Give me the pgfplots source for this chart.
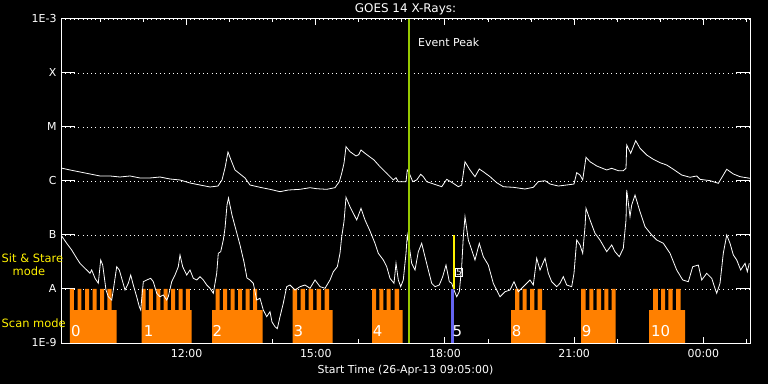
\documentclass[border=0pt]{standalone}
\usepackage{fontspec}
\setmainfont{DejaVu Sans}
\usepackage{pgfplots}
\pgfplotsset{compat=1.18}
\definecolor{iorange}{RGB}{255,128,0}
\definecolor{peakgreen}{RGB}{150,200,0}
\definecolor{sitblue}{RGB}{100,100,240}
\begin{document}
\begin{tikzpicture}
\fill[black] (0,0) rectangle (768bp,384bp);
\begin{axis}[
  at={(61bp,41bp)}, anchor=south west,
  scale only axis, width=689bp, height=324bp,
  xmin=9.0833, xmax=25.0833, ymin=-9, ymax=-3,
  axis line style={white, line width=1bp},
  tick style={white, line width=1bp},
  xtick={12,15,18,21,24},
  xticklabels={12:00,15:00,18:00,21:00,00:00},
  minor xtick={10,11,13,14,16,17,19,20,22,23,25},
  xtick style={/pgfplots/major tick length=6bp,/pgfplots/minor tick length=3.5bp},
  ytick={-9,-8,-7,-6,-5,-4,-3},
  yticklabels={1E-9,A,B,C,M,X,1E-3},
  ytick style={/pgfplots/major tick length=14bp},
  ymajorgrids,
  grid style={white, line width=0.9bp, dash pattern=on 0.9bp off 3.4bp},
  /pgf/number format/assume math mode=true,
  tick label style={text=white, font=\fontsize{11}{13}\selectfont},
  xticklabel style={yshift=-3bp},
  yticklabel style={xshift=-1bp},
  title={GOES 14 X-Rays:},
  title style={text=white, font=\fontsize{12}{14}\selectfont, at={(axis description cs:0.5,1)}, anchor=center, yshift=3.5bp},
  xlabel={Start Time (26-Apr-13 09:05:00)},
  xlabel style={text=white, font=\fontsize{11}{13}\selectfont, at={(axis description cs:0.5,0)}, anchor=center, yshift=-27bp},
  clip=true,
]
% scan-mode blocks
\addplot[fill=iorange, draw=none] coordinates {(9.292,-9)(9.292,-8)(9.385,-8)(9.385,-8.389)(9.467,-8.389)(9.467,-8)(9.559,-8)(9.559,-8.389)(9.641,-8.389)(9.641,-8)(9.734,-8)(9.734,-8.389)(9.815,-8.389)(9.815,-8)(9.908,-8)(9.908,-8.389)(9.989,-8.389)(9.989,-8)(10.082,-8)(10.082,-8.389)(10.163,-8.389)(10.163,-8)(10.256,-8)(10.256,-8.389)(10.377,-8.389)(10.377,-9)} -- cycle;
\addplot[fill=iorange, draw=none] coordinates {(10.953,-9)(10.953,-8)(11.046,-8)(11.046,-8.389)(11.125,-8.389)(11.125,-8)(11.218,-8)(11.218,-8.389)(11.297,-8.389)(11.297,-8)(11.389,-8)(11.389,-8.389)(11.468,-8.389)(11.468,-8)(11.561,-8)(11.561,-8.389)(11.640,-8.389)(11.640,-8)(11.733,-8)(11.733,-8.389)(11.812,-8.389)(11.812,-8)(11.905,-8)(11.905,-8.389)(11.984,-8.389)(11.984,-8)(12.077,-8)(12.077,-8.389)(12.114,-8.389)(12.114,-9)} -- cycle;
\addplot[fill=iorange, draw=none] coordinates {(12.590,-9)(12.590,-8.389)(12.676,-8.389)(12.676,-8)(12.769,-8)(12.769,-8.389)(12.850,-8.389)(12.850,-8)(12.943,-8)(12.943,-8.389)(13.024,-8.389)(13.024,-8)(13.117,-8)(13.117,-8.389)(13.198,-8.389)(13.198,-8)(13.291,-8)(13.291,-8.389)(13.373,-8.389)(13.373,-8)(13.466,-8)(13.466,-8.389)(13.547,-8.389)(13.547,-8)(13.640,-8)(13.640,-8.389)(13.767,-8.389)(13.767,-9)} -- cycle;
\addplot[fill=iorange, draw=none] coordinates {(14.464,-9)(14.464,-8)(14.569,-8)(14.569,-8.389)(14.650,-8.389)(14.650,-8)(14.754,-8)(14.754,-8.389)(14.836,-8.389)(14.836,-8)(14.940,-8)(14.940,-8.389)(15.021,-8.389)(15.021,-8)(15.126,-8)(15.126,-8.389)(15.207,-8.389)(15.207,-8)(15.312,-8)(15.312,-8.389)(15.393,-8.389)(15.393,-9)} -- cycle;
\addplot[fill=iorange, draw=none] coordinates {(16.306,-9)(16.306,-8)(16.399,-8)(16.399,-8.389)(16.475,-8.389)(16.475,-8)(16.568,-8)(16.568,-8.389)(16.647,-8.389)(16.647,-8)(16.740,-8)(16.740,-8.389)(16.828,-8.389)(16.828,-8)(16.933,-8)(16.933,-8.389)(17.019,-8.389)(17.019,-9)} -- cycle;
\addplot[fill=iorange, draw=none] coordinates {(19.534,-9)(19.534,-8.389)(19.627,-8.389)(19.627,-8)(19.726,-8)(19.726,-8.389)(19.801,-8.389)(19.801,-8)(19.898,-8)(19.898,-8.389)(19.975,-8.389)(19.975,-8)(20.075,-8)(20.075,-8.389)(20.154,-8.389)(20.154,-8)(20.258,-8)(20.258,-8.389)(20.340,-8.389)(20.340,-9)} -- cycle;
\addplot[fill=iorange, draw=none] coordinates {(21.159,-9)(21.159,-8)(21.264,-8)(21.264,-8.389)(21.352,-8.389)(21.352,-8)(21.445,-8)(21.445,-8.389)(21.524,-8.389)(21.524,-8)(21.624,-8)(21.624,-8.389)(21.700,-8.389)(21.700,-8)(21.793,-8)(21.793,-8.389)(21.872,-8.389)(21.872,-8)(21.965,-8)(21.965,-9)} -- cycle;
\addplot[fill=iorange, draw=none] coordinates {(22.738,-9)(22.738,-8.389)(22.831,-8.389)(22.831,-8)(22.941,-8)(22.941,-8.389)(23.017,-8.389)(23.017,-8)(23.110,-8)(23.110,-8.389)(23.187,-8.389)(23.187,-8)(23.289,-8)(23.289,-8.389)(23.365,-8.389)(23.365,-8)(23.475,-8)(23.475,-8.389)(23.575,-8.389)(23.575,-9)} -- cycle;
% long channel (1-8 A)
\addplot[white, line width=0.8bp, mark=none] coordinates {(9.083,-5.759)(9.292,-5.796)(9.524,-5.833)(9.757,-5.870)(9.989,-5.907)(10.221,-5.907)(10.453,-5.926)(10.686,-5.907)(10.918,-5.944)(11.150,-5.944)(11.382,-5.926)(11.615,-5.963)(11.847,-5.981)(12.079,-6.037)(12.311,-6.074)(12.544,-6.111)(12.729,-6.093)(12.822,-5.981)(12.892,-5.759)(12.961,-5.463)(13.031,-5.611)(13.124,-5.796)(13.240,-5.870)(13.356,-5.944)(13.472,-6.074)(13.705,-6.117)(13.937,-6.154)(14.169,-6.198)(14.362,-6.167)(14.634,-6.154)(14.866,-6.124)(15.021,-6.143)(15.254,-6.154)(15.446,-6.124)(15.546,-6.013)(15.602,-5.857)(15.655,-5.672)(15.702,-5.365)(15.795,-5.457)(15.934,-5.537)(15.997,-5.513)(16.050,-5.426)(16.143,-5.487)(16.352,-5.611)(16.491,-5.735)(16.647,-5.857)(16.800,-5.981)(16.863,-5.939)(16.916,-6.013)(17.095,-6.013)(17.125,-5.796)(17.158,-5.828)(17.188,-5.889)(17.251,-6.013)(17.343,-5.981)(17.436,-5.876)(17.497,-5.920)(17.576,-6.013)(17.808,-6.074)(17.924,-6.106)(18.040,-5.969)(18.194,-6.043)(18.309,-6.106)(18.388,-6.074)(18.465,-5.643)(18.581,-5.796)(18.697,-5.920)(18.797,-5.778)(18.890,-5.828)(19.046,-5.920)(19.201,-6.031)(19.355,-6.106)(19.587,-6.117)(19.858,-6.148)(20.051,-6.117)(20.167,-6.013)(20.323,-5.994)(20.439,-6.056)(20.632,-6.093)(20.827,-6.074)(20.996,-6.056)(21.059,-5.846)(21.136,-5.889)(21.198,-5.981)(21.275,-5.561)(21.368,-5.643)(21.524,-5.722)(21.756,-5.796)(21.872,-5.765)(22.025,-5.809)(22.141,-5.809)(22.204,-5.765)(22.220,-5.333)(22.313,-5.487)(22.429,-5.254)(22.529,-5.394)(22.685,-5.519)(22.838,-5.598)(22.994,-5.661)(23.149,-5.704)(23.303,-5.783)(23.497,-5.889)(23.690,-5.931)(23.846,-5.907)(23.922,-5.969)(24.155,-5.994)(24.348,-6.043)(24.543,-5.783)(24.696,-5.870)(24.851,-5.920)(25.083,-5.950)};
% short channel (0.5-4 A)
\addplot[white, line width=0.8bp, mark=none] coordinates {(9.083,-7.000)(9.216,-7.154)(9.332,-7.278)(9.448,-7.431)(9.524,-7.524)(9.601,-7.587)(9.680,-7.648)(9.757,-7.709)(9.796,-7.648)(9.873,-7.802)(9.949,-7.894)(10.005,-7.463)(10.052,-7.556)(10.128,-8.019)(10.182,-8.143)(10.261,-8.204)(10.298,-8.019)(10.377,-7.587)(10.437,-7.648)(10.493,-7.802)(10.570,-8.019)(10.646,-7.894)(10.702,-7.741)(10.762,-7.926)(10.841,-8.143)(10.902,-8.328)(10.934,-8.389)(10.995,-7.865)(11.073,-7.833)(11.166,-7.802)(11.227,-7.865)(11.306,-8.080)(11.382,-8.143)(11.459,-8.111)(11.538,-8.204)(11.575,-8.143)(11.654,-7.865)(11.731,-7.741)(11.807,-7.587)(11.847,-7.370)(11.909,-7.587)(12.002,-7.741)(12.079,-7.648)(12.156,-7.802)(12.235,-7.833)(12.311,-7.772)(12.388,-7.833)(12.467,-7.926)(12.544,-7.987)(12.620,-8.080)(12.699,-7.709)(12.736,-7.339)(12.792,-7.309)(12.852,-7.093)(12.892,-6.876)(12.938,-6.444)(12.973,-6.315)(13.054,-6.630)(13.147,-6.907)(13.240,-7.185)(13.333,-7.500)(13.402,-7.796)(13.472,-7.833)(13.549,-7.894)(13.628,-8.204)(13.704,-8.172)(13.781,-8.389)(13.860,-8.513)(13.937,-8.420)(13.983,-8.611)(14.053,-8.698)(14.106,-8.735)(14.169,-8.513)(14.245,-8.265)(14.324,-7.957)(14.401,-7.926)(14.517,-8.019)(14.633,-7.957)(14.749,-7.926)(14.866,-7.987)(14.982,-7.833)(15.098,-7.957)(15.214,-7.987)(15.330,-7.833)(15.407,-7.680)(15.500,-7.587)(15.562,-7.339)(15.602,-7.031)(15.655,-6.754)(15.702,-6.302)(15.794,-6.476)(15.950,-6.722)(16.050,-6.506)(16.143,-6.722)(16.259,-6.926)(16.375,-7.154)(16.452,-7.339)(16.568,-7.463)(16.647,-7.587)(16.723,-7.802)(16.816,-7.894)(16.863,-7.524)(16.916,-7.833)(16.972,-7.957)(17.032,-7.833)(17.095,-7.339)(17.125,-7.000)(17.172,-7.217)(17.227,-7.524)(17.304,-7.648)(17.381,-7.309)(17.459,-7.154)(17.536,-7.402)(17.613,-7.648)(17.692,-7.894)(17.768,-7.957)(17.868,-7.926)(17.947,-7.772)(18.024,-7.556)(18.101,-7.865)(18.156,-7.894)(18.210,-8.019)(18.272,-8.143)(18.333,-8.050)(18.388,-7.587)(18.426,-7.031)(18.465,-6.661)(18.542,-7.093)(18.621,-7.278)(18.697,-7.463)(18.797,-7.154)(18.890,-7.402)(19.006,-7.556)(19.122,-7.894)(19.201,-8.019)(19.278,-8.143)(19.394,-8.050)(19.510,-8.019)(19.603,-7.865)(19.703,-8.050)(19.819,-7.957)(19.974,-7.833)(20.051,-7.926)(20.130,-7.431)(20.207,-7.648)(20.323,-7.431)(20.400,-7.709)(20.478,-7.865)(20.595,-7.957)(20.671,-7.894)(20.748,-7.772)(20.827,-7.926)(20.943,-7.957)(20.996,-7.709)(21.059,-7.093)(21.136,-7.185)(21.198,-7.339)(21.252,-6.846)(21.275,-6.506)(21.368,-6.722)(21.484,-6.969)(21.600,-7.093)(21.756,-7.309)(21.872,-7.185)(21.948,-7.309)(22.048,-7.402)(22.141,-7.246)(22.204,-6.722)(22.220,-6.167)(22.297,-6.661)(22.336,-6.444)(22.413,-6.259)(22.529,-6.569)(22.645,-6.846)(22.801,-7.000)(22.917,-7.093)(23.070,-7.154)(23.226,-7.339)(23.381,-7.648)(23.521,-7.833)(23.651,-7.865)(23.753,-7.587)(23.883,-7.556)(23.962,-7.833)(24.078,-7.709)(24.194,-7.802)(24.270,-7.987)(24.310,-8.080)(24.387,-7.894)(24.463,-7.339)(24.543,-7.000)(24.619,-7.154)(24.696,-7.370)(24.775,-7.463)(24.867,-7.648)(24.968,-7.524)(25.021,-7.680)(25.067,-7.524)};
% event peak and sit-and-stare markers
\addplot[peakgreen, line width=2.4bp, mark=none] coordinates {(17.165,-9)(17.165,-3)};
\addplot[sitblue, line width=3bp, mark=none] coordinates {(18.175,-9)(18.175,-8)};
\addplot[yellow, line width=2bp, mark=none] coordinates {(18.217,-8)(18.217,-7)};
\node[anchor=west, text=white, font=\fontsize{11}{13}\selectfont, inner sep=0pt] at (axis cs:17.374,-3.426) {Event Peak};
\node[draw=white, line width=0.6bp, text=white, font=\fontsize{9}{9}\selectfont, inner sep=0.8bp] at (axis cs:18.326,-7.685) {5};
\foreach \xx/\lab in {9.315/0,11.004/1,12.602/2,14.483/3,16.322/4,18.175/5,19.550/8,21.175/9,22.785/10}{
  \edef\tmp{\noexpand\node[anchor=west, text=white, font=\noexpand\fontsize{15}{15}\noexpand\selectfont, inner sep=0pt] at (axis cs:\xx,-8.778) {\lab};}
  \tmp
}
\end{axis}
\node[anchor=west, text=yellow, font=\fontsize{11.5}{13}\selectfont, inner sep=0pt] at (1.5bp,126bp) {Sit \& Stare};
\node[anchor=west, text=yellow, font=\fontsize{11.5}{13}\selectfont, inner sep=0pt] at (12.5bp,113bp) {mode};
\node[anchor=west, text=yellow, font=\fontsize{11.5}{13}\selectfont, inner sep=0pt] at (1.5bp,61bp) {Scan mode};
\pgfresetboundingbox
\path[use as bounding box] (0,0) rectangle (768bp,384bp);
\end{tikzpicture}
\end{document}
